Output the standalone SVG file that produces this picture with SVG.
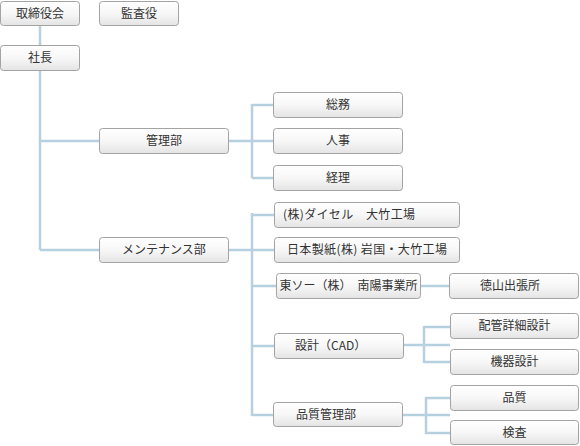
<svg xmlns="http://www.w3.org/2000/svg" width="580" height="446" viewBox="0 0 580 446">
<defs>
<linearGradient id="g" x1="0" y1="0" x2="0" y2="1">
<stop offset="0" stop-color="#ffffff"/>
<stop offset="0.5" stop-color="#f7f7f7"/>
<stop offset="1" stop-color="#e4e4e4"/>
</linearGradient>
</defs>
<style>
.box{fill:url(#g);stroke:#a3a3a3;stroke-width:1}
.t{font-family:"Noto Sans CJK JP","Noto Sans CJK SC",sans-serif;font-size:12px;fill:#333;text-anchor:middle}
.s{text-anchor:start}
.c{fill:none;stroke:#b7d0df;stroke-width:2.5}
</style>
<rect width="580" height="446" fill="#ffffff"/>
<g id="connectors">
<path class="c" d="M40 25V45M40 71V250M40 141H99M40 250H99"/>
<path class="c" d="M229 141H273M252 104V178M252 105H273M252 178H273"/>
<path class="c" d="M229 250H274M252 213V416M252 215H274M252 286H276M252 346H274M252 415H273"/>
<path class="c" d="M421 286H449"/>
<path class="c" d="M404 345H450M424 326V363M424 327H450M424 362H450"/>
<path class="c" d="M403 415H450M426 397V434M426 398H450M426 433H450"/>
</g>
<g id="n1"><rect class="box" x="0.5" y="1.5" width="79" height="24" rx="3"/><text class="t" x="40" y="18">取締役会</text></g>
<g id="n2"><rect class="box" x="99.5" y="1.5" width="79" height="24" rx="3"/><text class="t" x="139" y="18">監査役</text></g>
<g id="n3"><rect class="box" x="0.5" y="45.5" width="79" height="25" rx="3"/><text class="t" x="40" y="62">社長</text></g>
<g id="n4"><rect class="box" x="99.5" y="128.5" width="129" height="25" rx="3"/><text class="t" x="164" y="145">管理部</text></g>
<g id="n5"><rect class="box" x="273.5" y="92.5" width="129" height="25" rx="3"/><text class="t" x="338" y="109">総務</text></g>
<g id="n6"><rect class="box" x="273.5" y="128.5" width="129" height="25" rx="3"/><text class="t" x="338" y="145">人事</text></g>
<g id="n7"><rect class="box" x="273.5" y="165.5" width="129" height="25" rx="3"/><text class="t" x="338" y="182">経理</text></g>
<g id="n8"><rect class="box" x="99.5" y="237.5" width="129" height="25" rx="3"/><text class="t" x="164" y="254">メンテナンス部</text></g>
<g id="n9"><rect class="box" x="274.5" y="202.5" width="185" height="25" rx="3"/><text class="t s" x="283" y="219" textLength="132" lengthAdjust="spacing">(株)ダイセル　大竹工場</text></g>
<g id="n10"><rect class="box" x="274.5" y="237.5" width="185" height="25" rx="3"/><text class="t s" x="287" y="254" textLength="160" lengthAdjust="spacing">日本製紙(株) 岩国・大竹工場</text></g>
<g id="n11"><rect class="box" x="276.5" y="273.5" width="144" height="25" rx="3"/><text class="t" x="348.5" y="290">東ソー（株）　南陽事業所</text></g>
<g id="n12"><rect class="box" x="449.5" y="273.5" width="129" height="25" rx="3"/><text class="t s" x="480" y="290">徳山出張所</text></g>
<g id="n13"><rect class="box" x="274.5" y="333.5" width="129" height="25" rx="3"/><text class="t s" x="295" y="350">設計（CAD）</text></g>
<g id="n14"><rect class="box" x="450.5" y="313.5" width="128" height="25" rx="3"/><text class="t" x="514.5" y="330">配管詳細設計</text></g>
<g id="n15"><rect class="box" x="450.5" y="349.5" width="128" height="25" rx="3"/><text class="t" x="514.5" y="366">機器設計</text></g>
<g id="n16"><rect class="box" x="273.5" y="402.5" width="129" height="24" rx="3"/><text class="t s" x="296" y="419">品質管理部</text></g>
<g id="n17"><rect class="box" x="450.5" y="385.5" width="128" height="25" rx="3"/><text class="t" x="514.5" y="402">品質</text></g>
<g id="n18"><rect class="box" x="450.5" y="420.5" width="128" height="24" rx="3"/><text class="t" x="514.5" y="437">検査</text></g>
</svg>
